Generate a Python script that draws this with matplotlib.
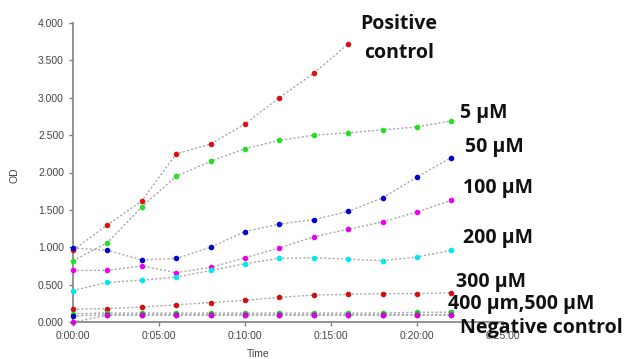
import matplotlib.pyplot as plt
from matplotlib.ticker import FuncFormatter, MultipleLocator

# time in minutes
time_min = [0, 2, 4, 6, 8, 10, 12, 14, 16, 18, 20, 22]

positive_control = [0.96, 1.30, 1.62, 2.25, 2.38, 2.65, 3.00, 3.33, 3.72]
um5 = [0.82, 1.06, 1.54, 1.95, 2.15, 2.32, 2.43, 2.50, 2.53, 2.57, 2.61, 2.69]
um50 = [0.99, 0.96, 0.83, 0.85, 1.00, 1.21, 1.31, 1.37, 1.48, 1.66, 1.94, 2.20]
um100 = [0.69, 0.69, 0.75, 0.66, 0.73, 0.86, 0.99, 1.14, 1.24, 1.34, 1.47, 1.63]
um200 = [0.42, 0.53, 0.56, 0.60, 0.69, 0.78, 0.85, 0.86, 0.84, 0.82, 0.87, 0.96]
um300 = [0.17, 0.18, 0.20, 0.23, 0.26, 0.29, 0.33, 0.36, 0.37, 0.38, 0.38, 0.39]
um400 = [0.11, 0.12, 0.12, 0.12, 0.12, 0.12, 0.12, 0.12, 0.12, 0.12, 0.13, 0.13]
um500 = [0.08, 0.10, 0.10, 0.10, 0.10, 0.10, 0.10, 0.10, 0.10, 0.10, 0.10, 0.10]
negative_control = [0.00, 0.09, 0.09, 0.09, 0.09, 0.09, 0.09, 0.09, 0.09, 0.09, 0.09, 0.09]

series = [
    (positive_control, '#e01010'),
    (um5, '#22e022'),
    (um50, '#0000d0'),
    (um100, '#ee00ee'),
    (um200, '#00e8f0'),
    (um300, '#d01010'),
    (um400, '#22d022'),
    (um500, '#0000d0'),
    (negative_control, '#dd00dd'),
]

labels = [
    ('Positive', 399, 24, 'center'),
    ('control', 399, 53, 'center'),
    ('5 µM', 460, 113, 'left'),
    ('50 µM', 465, 147, 'left'),
    ('100 µM', 463, 188, 'left'),
    ('200 µM', 463, 238, 'left'),
    ('300 µM', 456, 282, 'left'),
    ('400 µm,500 µM', 448, 304, 'left'),
    ('Negative control', 460, 328, 'left'),
]

W, H = 630, 359
fig = plt.figure(figsize=(W / 100, H / 100), dpi=100)
ax = fig.add_axes([73 / W, 1 - 322 / H, (503 - 73) / W, (322 - 23) / H])

for vals, col in series:
    t = time_min[:len(vals)]
    ax.plot(t, vals, color='#a8a8a8', lw=1, linestyle=(0, (1.5, 1.5)), zorder=2, clip_on=False)
    ax.plot(t, vals, 'o', color=col, ms=3, mec=col, zorder=3, clip_on=False)

ax.set_xlim(0, 25)
ax.set_ylim(0, 4)
ax.yaxis.set_major_locator(MultipleLocator(0.5))
ax.xaxis.set_major_locator(MultipleLocator(5))
ax.yaxis.set_major_formatter(FuncFormatter(lambda v, p: f'{v:.3f}'))
ax.xaxis.set_major_formatter(FuncFormatter(lambda v, p: f'0:{int(v):02d}:00'))

for s in ['top', 'right']:
    ax.spines[s].set_visible(False)
for s in ['left', 'bottom']:
    ax.spines[s].set_color('#808080')
    ax.spines[s].set_linewidth(1.2)
ax.tick_params(colors='#808080', labelcolor='#444444', labelsize=7.5, length=3, width=1,
               labelfontfamily='Liberation Sans')

fig.text(15 / W, 1 - 175 / H, 'OD', rotation=90, ha='center', va='center',
         fontsize=7.5, color='#444444', family='Liberation Sans')
fig.text(258 / W, 1 - 354 / H, 'Time', ha='center', va='center',
         fontsize=7.5, color='#444444', family='Liberation Sans')

for txt, x, y, ha in labels:
    fig.text(x / W, 1 - y / H, txt, ha=ha, va='center', fontsize=14, fontweight='bold',
             family='Open Sans', color='#111111')

fig.savefig('out.png', dpi=100, facecolor='white')
